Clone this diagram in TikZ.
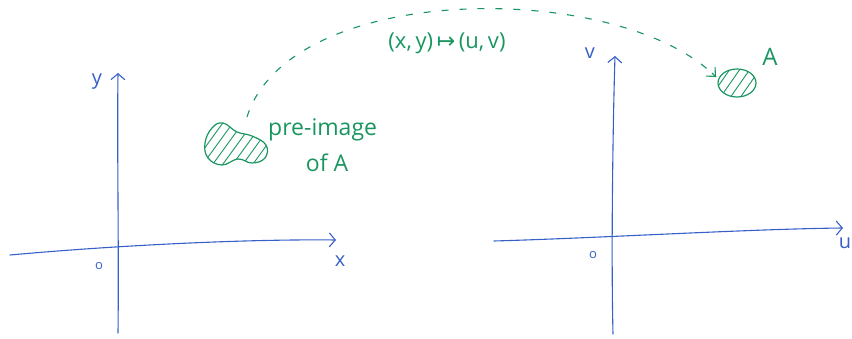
\documentclass[tikz,border=0pt]{standalone}
\usepackage{fontspec}
\setmainfont{Open Sans}
\newfontfamily\dejavu{DejaVu Sans}
\usetikzlibrary{arrows.meta}
\definecolor{axblue}{RGB}{55,95,200}
\definecolor{inkgreen}{RGB}{25,150,95}
\tikzset{
  axis/.style={draw=axblue, line width=1.1pt, line cap=round, -{Straight Barb[length=6pt,width=14pt,line width=1.1pt]}},
  axlabel/.style={text=axblue, font=\fontsize{20}{22}\selectfont, inner sep=0pt},
  origin/.style={text=axblue, font=\fontsize{13}{15}\selectfont, inner sep=0pt},
  blob/.style={draw=inkgreen, line width=1.2pt},
  hatch/.style={draw=inkgreen, line width=0.9pt},
  greentext/.style={text=inkgreen, font=\fontsize{23}{26}\selectfont, inner sep=0pt, align=center},
  mapdash/.style={draw=inkgreen, line width=1.1pt, dash pattern=on 7pt off 11pt},
  maptip/.style={draw=inkgreen, line width=1.1pt, -{Straight Barb[length=7pt,width=13pt,line width=1.1pt]}}
}
\begin{document}
\begin{tikzpicture}[x=1pt,y=-1pt]
\useasboundingbox (0,0) rectangle (852,339);
% left axes
\coordinate (lxs) at (10,255);
\coordinate (lxe) at (336,240);
\coordinate (lys) at (118,333);
\coordinate (lye) at (118,73);
\draw[axis] (lxs) .. controls (120,245) and (250,239) .. (lxe);
\draw[axis] (lys) .. controls (119,250) and (117,150) .. (lye);
\node[axlabel] (ylab) at (97,82) {y};
\node[axlabel] (xlab) at (340,261) {x};
\node[origin] (o1) at (99,266) {o};
% right axes
\coordinate (rxs) at (494,241);
\coordinate (rxe) at (843,228);
\coordinate (rys) at (613,334);
\coordinate (rye) at (615,56);
\draw[axis] (rxs) .. controls (600,238) and (750,229) .. (rxe);
\draw[axis] (rys) .. controls (611,250) and (613,120) .. (rye);
\node[axlabel] (vlab) at (590,53) {v};
\node[axlabel] (ulab) at (845,243) {u};
\node[origin] (o2) at (593,255) {o};
% pre-image blob
\def\preblob{plot[smooth cycle, tension=0.7] coordinates {(205,143) (212,128) (223,123) (237,132) (252,136) (266,145) (265,158) (252,163) (238,159) (222,165) (208,158)}}
\begin{scope}
  \clip \preblob;
  \foreach \k in {-4,...,8}
    \draw[hatch] (195+\k*10,175) -- (235+\k*10,120);
\end{scope}
\draw[blob] \preblob;
\coordinate (pre) at (247,117);
\node[greentext, anchor=west] (pretext) at (268,130) {pre-image};
\node[greentext] (oftext) at (327,163) {of A};
% image blob A
\def\ablob{(737,83) ellipse [x radius=19pt, y radius=14pt]}
\begin{scope}
  \clip \ablob;
  \foreach \k in {-3,...,4}
    \draw[hatch] (715+\k*10,105) -- (745+\k*10,62);
\end{scope}
\draw[blob] \ablob;
\coordinate (img) at (716,77);
\path (img) ++(-4,-4) coordinate (imgpre);
\node[greentext, font=\fontsize{24}{26}\selectfont] (alab) at (770,57) {A};
% mapping arrow
\draw[mapdash] (pre) .. controls (290,-20) and (620,-20) .. (img);
\draw[maptip] (imgpre) -- (img);
\node[greentext, font=\fontsize{22}{24}\selectfont] (maplab) at (447,43) {(x,\,y)\,{\dejavu ↦}\,(u,\,v)};
\end{tikzpicture}
\end{document}
